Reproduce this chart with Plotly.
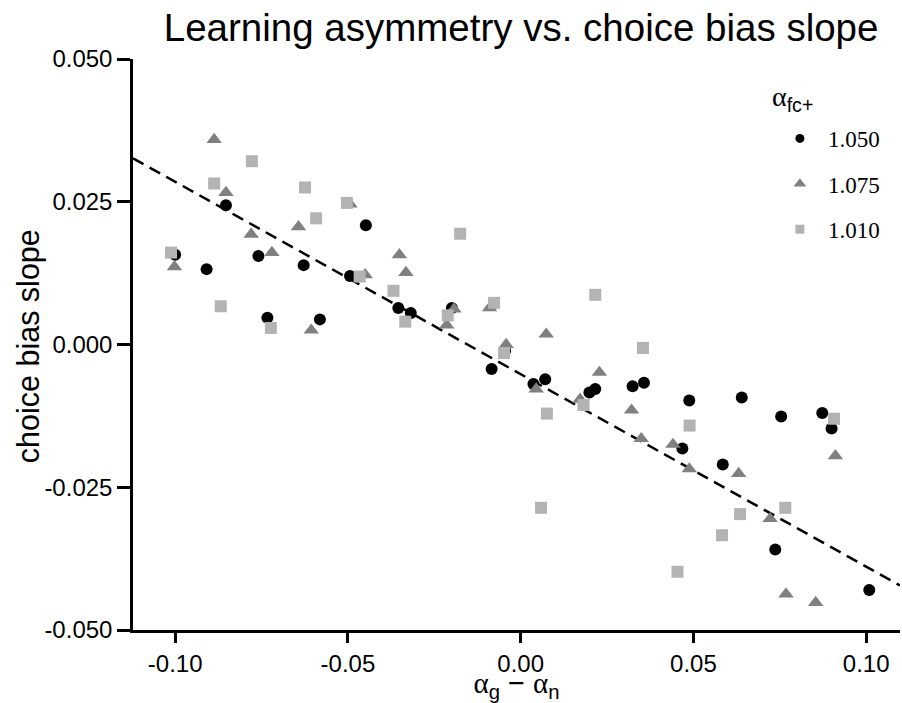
import plotly.graph_objects as go

# ---- data ----
x_105 = [-0.1000, -0.0909, -0.0853, -0.0759, -0.0733, -0.0628, -0.0581, -0.0494,
         -0.0448, -0.0354, -0.0318, -0.0199, -0.0084, -0.0045, 0.0037, 0.0071,
         0.0199, 0.0216, 0.0324, 0.0357, 0.0468, 0.0488, 0.0585, 0.0640,
         0.0737, 0.0754, 0.0873, 0.0900, 0.1009]
y_105 = [0.0157, 0.0132, 0.0244, 0.0155, 0.0047, 0.0139, 0.0044, 0.0120,
         0.0209, 0.0064, 0.0055, 0.0064, -0.0043, -0.0011, -0.0069, -0.0061,
         -0.0084, -0.0078, -0.0073, -0.0067, -0.0182, -0.0098, -0.0210, -0.0093,
         -0.0359, -0.0126, -0.0120, -0.0147, -0.0430]

x_1075 = [-0.0887, -0.0853, -0.0780, -0.1002, -0.0720, -0.0643, -0.0606, -0.0494,
          -0.0450, -0.0351, -0.0332, -0.0193, -0.0214, -0.0090, -0.0042, 0.0045,
          0.0074, 0.0172, 0.0228, 0.0321, 0.0349, 0.0441, 0.0488, 0.0631,
          0.0722, 0.0768, 0.0854, 0.0911]
y_1075 = [0.0359, 0.0266, 0.0193, 0.0136, 0.0161, 0.0206, 0.0025, 0.0246,
          0.0122, 0.0157, 0.0126, 0.0062, 0.0034, 0.0064, 0.0000, -0.0078,
          0.0018, -0.0096, -0.0049, -0.0115, -0.0165, -0.0175, -0.0218, -0.0226,
          -0.0305, -0.0437, -0.0452, -0.0195]

x_101 = [-0.1012, -0.0887, -0.0868, -0.0778, -0.0723, -0.0624, -0.0592, -0.0503,
         -0.0466, -0.0368, -0.0334, -0.0211, -0.0175, -0.0077, -0.0048, 0.0059,
         0.0076, 0.0182, 0.0216, 0.0354, 0.0454, 0.0489, 0.0583, 0.0635,
         0.0766, 0.0907]
y_101 = [0.0161, 0.0282, 0.0067, 0.0321, 0.0029, 0.0275, 0.0221, 0.0248,
         0.0119, 0.0094, 0.0040, 0.0051, 0.0194, 0.0073, -0.0015, -0.0286,
         -0.0121, -0.0106, 0.0087, -0.0006, -0.0398, -0.0142, -0.0334, -0.0297,
         -0.0286, -0.0130]

series_names = ["1.050", "1.075", "1.010"]
legend_title = "<span style='font-family:Liberation Serif'>α</span><sub>fc+</sub>"
y_title = "choice bias slope"
x_title = ("<span style='font-family:Liberation Serif'>α</span><sub>g</sub> − "
           "<span style='font-family:Liberation Serif'>α</span><sub>n</sub>")

fit_slope = -0.337
fit_intercept = -0.0052

x_range = [-0.1122, 0.1098]
y_range = [-0.05, 0.05]

x_tickvals = [-0.10, -0.05, 0.00, 0.05, 0.10]
x_ticktext = ["-0.10", "-0.05", "0.00", "0.05", "0.10"]
y_tickvals = [-0.050, -0.025, 0.000, 0.025, 0.050]
y_ticktext = ["-0.050", "-0.025", "0.000", "0.025", "0.050"]

# ---- figure ----
SANS = "Liberation Sans, Arial, Helvetica, sans-serif"
SERIF = "Liberation Serif, Times New Roman, serif"

colors = ["#000000", "#808080", "#b3b3b3"]
symbols = ["circle", "triangle-up", "square"]
sizes = [12, 13.5, 12]
leg_sizes = [9, 11, 9]
xs = [x_105, x_1075, x_101]
ys = [y_105, y_1075, y_101]

fig = go.Figure()

fit_x = list(x_range)
fit_y = [fit_intercept + fit_slope * v for v in fit_x]
fig.add_trace(go.Scatter(x=fit_x, y=fit_y, mode="lines",
                         line=dict(color="black", width=2.5, dash="12px,7px"),
                         showlegend=False, hoverinfo="skip"))

for i in range(3):
    fig.add_trace(go.Scatter(x=xs[i], y=ys[i], mode="markers",
                             marker=dict(symbol=symbols[i], size=sizes[i], color=colors[i]),
                             showlegend=False, name=series_names[i]))

for i in range(3):
    fig.add_trace(go.Scatter(x=[None], y=[None], mode="markers",
                             marker=dict(symbol=symbols[i], size=leg_sizes[i], color=colors[i]),
                             name=series_names[i], legendgroup="g%d" % i,
                             showlegend=True))

fig.update_layout(
    width=902, height=703,
    margin=dict(l=133, r=2, t=59, b=73),
    paper_bgcolor="white", plot_bgcolor="white",
    title=dict(text="Learning asymmetry vs. choice bias slope",
               font=dict(family=SANS, size=38.5, color="black"),
               x=0.506, xref="paper", xanchor="center",
               y=1 - 28 / 703, yref="container", yanchor="middle"),
    legend=dict(x=0.833, xanchor="left", y=0.8985, yanchor="top",
                xref="paper", yref="paper",
                bgcolor="rgba(0,0,0,0)", borderwidth=0,
                itemwidth=46, tracegroupgap=12.5,
                font=dict(family=SERIF, size=23, color="black")),
    showlegend=True,
    annotations=[
        dict(text=legend_title, xref="paper", yref="paper",
             x=0.8305, y=0.93, xanchor="left", yanchor="middle",
             showarrow=False,
             font=dict(family=SANS, size=28, color="black")),
        dict(text=y_title, xref="paper", yref="paper",
             x=-0.1369, y=0.497, xanchor="center", yanchor="middle",
             textangle=-90, showarrow=False,
             font=dict(family=SANS, size=30.5, color="black")),
    ],
)

fig.update_xaxes(range=x_range, tickvals=x_tickvals, ticktext=x_ticktext,
                 showgrid=False, zeroline=False,
                 showline=True, linecolor="black", linewidth=2.5,
                 ticks="outside", ticklen=10, tickwidth=2.5, tickcolor="black",
                 tickfont=dict(family=SANS, size=24, color="black"),
                 title=dict(text=x_title,
                            font=dict(family=SANS, size=29, color="black"), standoff=5))

fig.update_yaxes(range=y_range, tickvals=y_tickvals, ticktext=y_ticktext,
                 showgrid=False, zeroline=False,
                 showline=True, linecolor="black", linewidth=2.5,
                 ticks="outside", ticklen=13, tickwidth=2.5, tickcolor="black",
                 tickfont=dict(family=SANS, size=24, color="black"))

fig.write_html("out.html")
